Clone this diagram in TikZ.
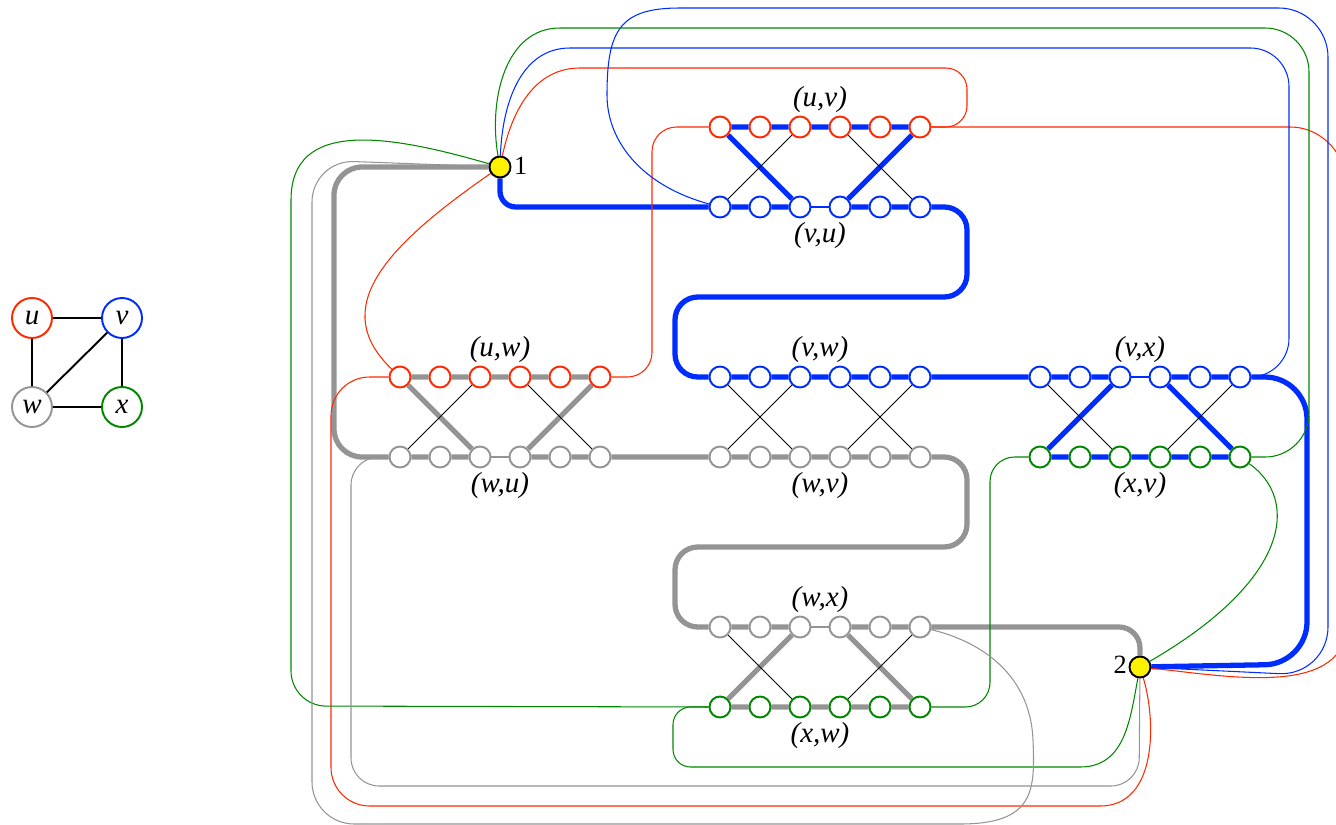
\documentclass[tikz,border=0pt]{standalone}
\usepackage{fontspec}
\setmainfont{Liberation Serif}
\usetikzlibrary{backgrounds}

\definecolor{ured}{RGB}{255,40,0}
\definecolor{vblue}{RGB}{0,45,255}
\definecolor{wgray}{RGB}{148,148,148}
\definecolor{xgreen}{RGB}{0,135,0}

\begin{document}
\begin{tikzpicture}[x=0.02cm,y=-0.02cm,
    vtx/.style={circle,draw,fill=white,line width=1.1pt,minimum size=0.42cm,inner sep=0pt},
    sel/.style={circle,draw=black,fill=yellow,line width=1.1pt,minimum size=0.42cm,inner sep=0pt},
    big/.style={circle,draw,line width=1.1pt,minimum size=0.8cm,inner sep=0pt,font=\fontsize{16.5}{18}\selectfont\itshape},
    lbl/.style={font=\fontsize{16.5}{18}\selectfont\itshape,inner sep=0pt},
    num/.style={font=\fontsize{15}{17}\selectfont,inner sep=1pt},
    cover/.style={line width=3pt,line join=round},
    link/.style={line width=0.6pt},
    cross/.style={black,line width=0.55pt}]

\useasboundingbox (0,0) rectangle (1336,825);

% the graph
\node[big,draw=ured]   (u) at (32,318)  {u};
\node[big,draw=vblue]  (v) at (122,318) {v};
\node[big,draw=wgray]  (w) at (32,407)  {w};
\node[big,draw=xgreen] (x) at (122,407) {x};
\draw[line width=1.1pt] (u) -- (v) (u) -- (w) (v) -- (w) (v) -- (x) (w) -- (x);

% gadgets
\foreach \i in {1,...,6} {
    \node[vtx,draw=ured]   (uv\i) at ({680+40*\i},127) {};
    \node[vtx,draw=vblue]  (vu\i) at ({680+40*\i},207) {};
    \node[vtx,draw=ured]   (uw\i) at ({360+40*\i},377) {};
    \node[vtx,draw=wgray]  (wu\i) at ({360+40*\i},457) {};
    \node[vtx,draw=vblue]  (vw\i) at ({680+40*\i},377) {};
    \node[vtx,draw=wgray]  (wv\i) at ({680+40*\i},457) {};
    \node[vtx,draw=vblue]  (vx\i) at ({1000+40*\i},377) {};
    \node[vtx,draw=xgreen] (xv\i) at ({1000+40*\i},457) {};
    \node[vtx,draw=wgray]  (wx\i) at ({680+40*\i},627) {};
    \node[vtx,draw=xgreen] (xw\i) at ({680+40*\i},707) {};
}
\node[lbl] (luv) at (820,100) {(u,v)};
\node[lbl] (lvu) at (820,236) {(v,u)};
\node[lbl] (luw) at (500,350) {(u,w)};
\node[lbl] (lwu) at (500,486) {(w,u)};
\node[lbl] (lvw) at (820,350) {(v,w)};
\node[lbl] (lwv) at (820,486) {(w,v)};
\node[lbl] (lvx) at (1140,350) {(v,x)};
\node[lbl] (lxv) at (1140,486) {(x,v)};
\node[lbl] (lwx) at (820,600) {(w,x)};
\node[lbl] (lxw) at (820,736) {(x,w)};

% selector vertices
\node[sel] (one) at (500,167) {};
\node[sel] (two) at (1140,667) {};
\node[num,anchor=west] (onelbl) at (512,166) {1};
\node[num,anchor=east] (twolbl) at (1129,665) {2};

\begin{scope}[on background layer]
% cover of v
\draw[cover,vblue,rounded corners=9pt] (one) |- (vu1);
\draw[cover,vblue] (vu1) -- (vu2) -- (vu3) -- (uv1) -- (uv2) -- (uv3) -- (uv4) -- (uv5) -- (uv6) -- (vu4) -- (vu5) -- (vu6);
\draw[cover,vblue,rounded corners=13pt] (vu6) -- (967,207) -- (967,297) -- (675,297) -- (675,377) -- (vw1);
\draw[cover,vblue] (vw1) -- (vw2) -- (vw3) -- (vw4) -- (vw5) -- (vw6) -- (vx1) -- (vx2) -- (vx3) -- (xv1) -- (xv2) -- (xv3) -- (xv4) -- (xv5) -- (xv6) -- (vx4) -- (vx5) -- (vx6);
\draw[cover,vblue,rounded corners=24pt] (vx6) -- (1307,377) -- (1307,664) -- (two);

% cover of w
\draw[cover,wgray,rounded corners=16pt] (one) -- (334,167) -- (334,457) -- (wu1);
\draw[cover,wgray] (wu1) -- (wu2) -- (wu3) -- (uw1) -- (uw2) -- (uw3) -- (uw4) -- (uw5) -- (uw6) -- (wu4) -- (wu5) -- (wu6) -- (wv1) -- (wv2) -- (wv3) -- (wv4) -- (wv5) -- (wv6);
\draw[cover,wgray,rounded corners=13pt] (wv6) -- (967,457) -- (967,547) -- (675,547) -- (675,627) -- (wx1);
\draw[cover,wgray] (wx1) -- (wx2) -- (wx3) -- (xw1) -- (xw2) -- (xw3) -- (xw4) -- (xw5) -- (xw6) -- (wx4) -- (wx5) -- (wx6);
\draw[cover,wgray,rounded corners=12pt] (wx6) -- (1140,627) -- (two);

% thin edges inside the gadgets
\draw[link,vblue] (vu3) -- (vu4) (vx3) -- (vx4);
\draw[link,wgray] (wu3) -- (wu4) (wx3) -- (wx4);
\draw[cross] (uv3) -- (vu1) (uv4) -- (vu6) (uw3) -- (wu1) (uw4) -- (wu6)
    (vw1) -- (wv3) (vw3) -- (wv1) (vw4) -- (wv6) (vw6) -- (wv4)
    (vx1) -- (xv3) (vx6) -- (xv4) (wx1) -- (xw3) (wx6) -- (xw4);

% links of u
\coordinate (ua) at (580,68);
\coordinate (ub) at (1100,806);
\coordinate (uc) at (1290,127);
\coordinate (ud) at (1348,190);
\coordinate (ue) at (1348,620);
\draw[link,ured] (one) to[out=78,in=180] (ua);
\draw[link,ured,rounded corners=12pt] (ua) -- (967,68) -- (967,127) -- (uv6);
\draw[link,ured,rounded corners=14pt] (uv1) -- (652,127) -- (652,377) -- (uw6);
\draw[link,ured] (uw1) .. controls (330,310) and (380,250) .. (one);
\draw[link,ured,rounded corners=22pt] (uw1) -- (331,377) -- (331,806) -- (ub);
\draw[link,ured] (two) .. controls (1156,720) and (1158,806) .. (ub);
\draw[link,ured] (uv6) -- (uc) to[out=0,in=90] (ud) -- (ue) to[out=-90,in=-6] (two);

% links of v
\coordinate (va) at (570,48);
\coordinate (vb) at (680,8);
\draw[link,vblue] (one) to[out=88,in=180] (va);
\draw[link,vblue,rounded corners=22pt] (va) -- (1289,48) -- (1289,377) -- (vx6);
\draw[link,vblue] (vu1) .. controls (640,185) and (607,140) .. (607,95) .. controls (607,30) and (620,8) .. (vb);
\draw[link,vblue,rounded corners=28pt] (vb) -- (1328,8) -- (1328,676) -- (two);

% links of x
\coordinate (xa) at (560,28);
\coordinate (xb) at (291,200);
\coordinate (xc) at (1080,767);
\draw[link,xgreen] (one) to[out=100,in=180] (xa);
\draw[link,xgreen,rounded corners=25pt] (xa) -- (1309,28) -- (1309,457) -- (xv6);
\draw[link,xgreen] (one) .. controls (390,135) and (291,118) .. (xb);
\draw[link,xgreen,rounded corners=20pt] (xb) -- (291,706) -- (xw1);
\draw[link,xgreen,rounded corners=10pt] (xw1) -- (673,707) -- (673,767) -- (xc);
\draw[link,xgreen] (two) .. controls (1130,720) and (1125,767) .. (xc);
\draw[link,xgreen,rounded corners=14pt] (xw6) -- (990,707) -- (990,457) -- (xv1);
\draw[link,xgreen] (xv6) .. controls (1300,500) and (1290,580) .. (two);

% links of w
\coordinate (wa) at (960,824);
\draw[link,wgray,rounded corners=24pt] (one) -- (312,160) -- (312,824) -- (wa);
\draw[link,wgray] (wa) .. controls (1035,824) and (1035,790) .. (1033,740) .. controls (1030,670) and (975,640) .. (wx6);
\draw[link,wgray,rounded corners=16pt] (wu1) -- (351,457) -- (351,786) -- (1139,786) -- (two);
\end{scope}
\end{tikzpicture}
\end{document}
